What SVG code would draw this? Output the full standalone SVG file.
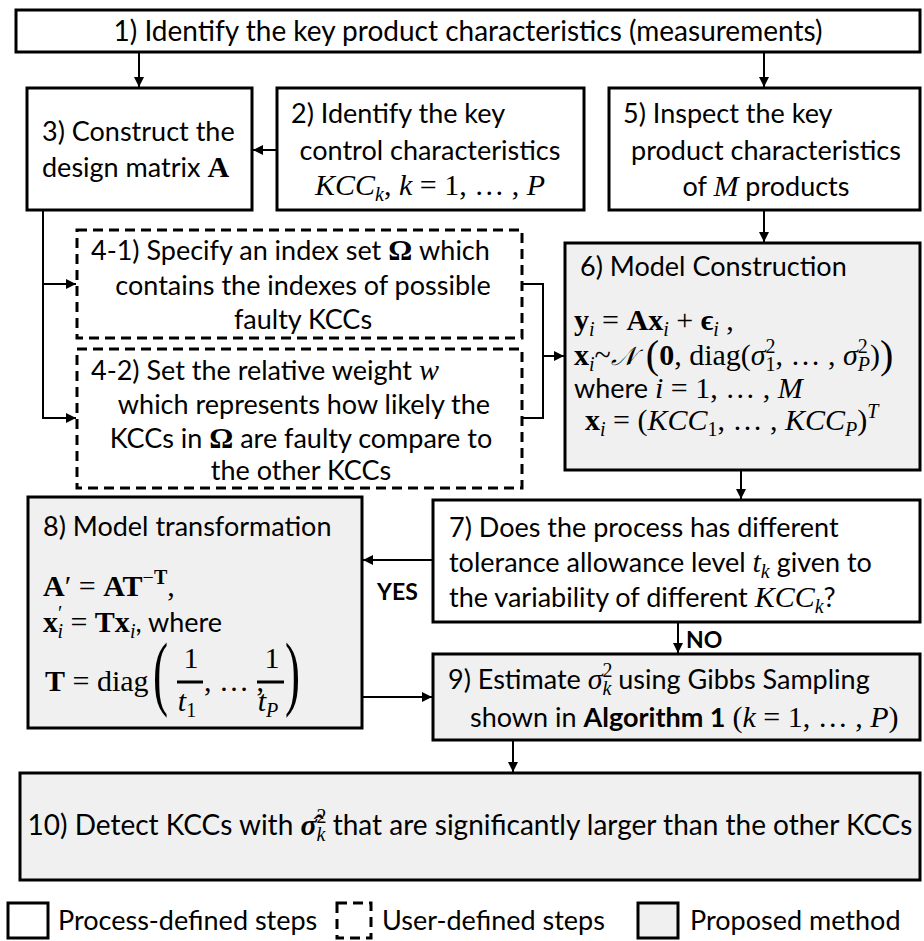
<svg xmlns="http://www.w3.org/2000/svg" width="924" height="941" viewBox="0 0 924 941">
<style>
.b{fill:#fff;stroke:#000;stroke-width:3}
.g{fill:#f0f0f0;stroke:#000;stroke-width:3}
.d{fill:#fff;stroke:#000;stroke-width:3;stroke-dasharray:10 6}
.t{font-family:Lato,"Open Sans",sans-serif;font-size:27px;fill:#000}
.m{font-family:"Liberation Serif",serif;font-size:30px}
.s{font-size:20px}
.i{font-style:italic}
.bf{font-weight:bold}
.c{stroke:#000;stroke-width:2;fill:none}
</style>
<defs>
<marker id="a" markerWidth="10" markerHeight="10" refX="10" refY="5" orient="auto" markerUnits="userSpaceOnUse"><path d="M0,0 L10,5 L0,10 z" fill="#000"/></marker>
</defs>

<g id="connectors">
<path class="c" d="M139,52 V87" marker-end="url(#a)"/>
<path class="c" d="M764,52 V87" marker-end="url(#a)"/>
<path class="c" d="M277,150 H253" marker-end="url(#a)"/>
<path class="c" d="M764,210 V242" marker-end="url(#a)"/>
<path class="c" d="M43,210 V418 H76" marker-end="url(#a)"/>
<path class="c" d="M43,284 H76" marker-end="url(#a)"/>
<path class="c" d="M522,284 H543 V418 H522"/>
<path class="c" d="M543,356 H564" marker-end="url(#a)"/>
<path class="c" d="M741,470 V499" marker-end="url(#a)"/>
<path class="c" d="M433,560 H363" marker-end="url(#a)"/>
<path class="c" d="M678,622 V653" marker-end="url(#a)"/>
<path class="c" d="M362,697 H432" marker-end="url(#a)"/>
<path class="c" d="M513,740 V772" marker-end="url(#a)"/>
<text class="t bf" x="377" y="600" style="font-size:23px">YES</text>
<text class="t bf" x="686" y="648" style="font-size:23px">NO</text>
</g>

<g id="n1">
<rect class="b" x="16" y="10" width="904" height="42"/>
<text class="t" x="468" y="41" text-anchor="middle" style="font-size:28px">1) Identify the key product characteristics (measurements)</text>
</g>

<g id="n3">
<rect class="b" x="27" y="88" width="225" height="122"/>
<text class="t" x="42" y="141">3) Construct the</text>
<text class="t" x="42" y="177">design matrix <tspan class="m bf">A</tspan></text>
</g>

<g id="n2">
<rect class="b" x="277" y="88" width="307" height="122"/>
<text class="t" x="291" y="123">2) Identify the key</text>
<text class="t" x="430" y="160" text-anchor="middle">control characteristics</text>
<text class="m" x="430" y="195" text-anchor="middle"><tspan class="i">KCC</tspan><tspan class="i s" dy="6">k</tspan><tspan dy="-6">, </tspan><tspan class="i">k</tspan> = 1, … , <tspan class="i">P</tspan></text>
</g>

<g id="n5">
<rect class="b" x="609" y="88" width="311" height="122"/>
<text class="t" x="623" y="123">5) Inspect the key</text>
<text class="t" x="766" y="160" text-anchor="middle">product characteristics</text>
<text class="t" x="766" y="196" text-anchor="middle">of <tspan class="m i">M</tspan> products</text>
</g>

<g id="n4-1">
<rect class="d" x="77" y="230" width="445" height="108"/>
<text class="t" x="91" y="260">4-1) Specify an index set <tspan class="m bf">Ω</tspan> which</text>
<text class="t" x="303" y="295" text-anchor="middle">contains the indexes of possible</text>
<text class="t" x="303" y="329" text-anchor="middle">faulty KCCs</text>
</g>

<g id="n4-2">
<rect class="d" x="77" y="349" width="445" height="139"/>
<text class="t" x="91" y="380">4-2) Set the relative weight <tspan class="m i">w</tspan></text>
<text class="t" x="304" y="414" text-anchor="middle">which represents how likely the</text>
<text class="t" x="301" y="448" text-anchor="middle">KCCs in <tspan class="m bf">Ω</tspan> are faulty compare to</text>
<text class="t" x="301" y="480" text-anchor="middle">the other KCCs</text>
</g>

<g id="n6">
<rect class="g" x="565" y="243" width="355" height="227"/>
<text class="t" x="580" y="276">6) Model Construction</text>
<text class="m" x="574" y="330"><tspan class="bf">y</tspan><tspan class="i s" dy="6">i</tspan><tspan dy="-6"> = </tspan><tspan class="bf">Ax</tspan><tspan class="i s" dy="6">i</tspan><tspan dy="-6"> + </tspan><tspan class="bf">ϵ</tspan><tspan class="i s" dy="6">i</tspan><tspan dy="-6"> ,</tspan></text>
<text class="m" x="574" y="365"><tspan class="bf">x</tspan><tspan class="i s" dy="6">i</tspan><tspan dy="-6">~</tspan><tspan class="i" font-family="DejaVu Serif" font-size="26">𝒩</tspan><tspan font-size="40" dy="3"> (</tspan><tspan dy="-3" class="bf">0</tspan>, diag(<tspan class="i">σ</tspan><tspan class="s" dy="-12">2</tspan><tspan class="s" dx="-10" dy="18">1</tspan><tspan dy="-6">, … , </tspan><tspan class="i">σ</tspan><tspan class="s" dy="-12">2</tspan><tspan class="s i" dx="-10" dy="18">P</tspan><tspan dy="-6">)</tspan><tspan font-size="40" dy="3">)</tspan></text>
<text class="t" x="574" y="398">where <tspan class="m i">i</tspan><tspan class="m"> = 1, … , </tspan><tspan class="m i">M</tspan></text>
<text class="m" x="585" y="430"><tspan class="bf">x</tspan><tspan class="i s" dy="6">i</tspan><tspan dy="-6"> = (</tspan><tspan class="i">KCC</tspan><tspan class="s" dy="6">1</tspan><tspan dy="-6">, … , </tspan><tspan class="i">KCC</tspan><tspan class="i s" dy="6">P</tspan><tspan dy="-6">)</tspan><tspan class="i s" dy="-12">T</tspan></text>
</g>

<g id="n8">
<rect class="g" x="28" y="497" width="334" height="231"/>
<text class="t" x="43" y="536">8) Model transformation</text>
<text class="m" x="43" y="596"><tspan class="bf">A</tspan>′ = <tspan class="bf">AT</tspan><tspan class="s" dy="-12">−</tspan><tspan class="s bf">T</tspan><tspan dy="12">,</tspan></text>
<text class="m" x="43" y="632"><tspan class="bf">x</tspan><tspan class="s" dy="-12">′</tspan><tspan class="i s" dx="-5" dy="18">i</tspan><tspan dy="-6"> = </tspan><tspan class="bf">Tx</tspan><tspan class="i s" dy="6">i</tspan><tspan dy="-6" class="t">, where</tspan></text>
<text class="m" x="45" y="691"><tspan class="bf">T</tspan> = diag</text>
<text class="m" x="153" y="700" style="font-size:82px" transform="translate(153 0) scale(0.55 1) translate(-153 0)">(</text>
<text class="m" x="191" y="668" text-anchor="middle">1</text>
<line x1="177" y1="682" x2="203" y2="682" stroke="#000" stroke-width="3"/>
<text class="m i" x="187" y="711" text-anchor="middle">t<tspan class="s" font-style="normal" dy="6">1</tspan></text>
<text class="m" x="204" y="691">, … ,</text>
<text class="m" x="272" y="668" text-anchor="middle">1</text>
<line x1="257" y1="682" x2="284" y2="682" stroke="#000" stroke-width="3"/>
<text class="m i" x="268" y="711" text-anchor="middle">t<tspan class="s" dy="6">P</tspan></text>
<text class="m" x="285" y="700" style="font-size:82px" transform="translate(285 0) scale(0.55 1) translate(-285 0)">)</text>
</g>

<g id="n7">
<rect class="b" x="433" y="500" width="487" height="122"/>
<text class="t" x="449" y="537">7) Does the process has different</text>
<text class="t" x="449" y="572">tolerance allowance level <tspan class="m i">t</tspan><tspan class="m i s" dy="6">k</tspan><tspan dy="-6"> given to</tspan></text>
<text class="t" x="449" y="607">the variability of different <tspan class="m i">KCC</tspan><tspan class="m i s" dy="6">k</tspan><tspan dy="-6">?</tspan></text>
</g>

<g id="n9">
<rect class="g" x="433" y="654" width="487" height="86"/>
<text class="t" x="448" y="689">9) Estimate <tspan class="m i">σ</tspan><tspan class="m s" dy="-12">2</tspan><tspan class="m i s" dx="-10" dy="18">k</tspan><tspan dy="-6"> using Gibbs Sampling</tspan></text>
<text class="t" x="470" y="727">shown in <tspan class="bf">Algorithm 1</tspan> <tspan class="m">(</tspan><tspan class="m i">k</tspan><tspan class="m"> = 1, … , </tspan><tspan class="m i">P</tspan><tspan class="m">)</tspan></text>
</g>

<g id="n10">
<rect class="g" x="20" y="773" width="900" height="107"/>
<text class="t" x="470" y="835" text-anchor="middle" style="font-size:28px">10) Detect KCCs with <tspan class="m i bf">σ̂</tspan><tspan class="m s" dy="-12">2</tspan><tspan class="m i s" dx="-10" dy="18">k</tspan><tspan dy="-6"> that are significantly larger than the other KCCs</tspan></text>
</g>

<g id="legend">
<rect class="b" x="8" y="903" width="40" height="35"/>
<text class="t" x="58" y="930">Process-defined steps</text>
<rect class="d" x="337" y="903" width="34" height="35" stroke-dasharray="8 6"/>
<text class="t" x="382" y="930">User-defined steps</text>
<rect class="g" x="638" y="903" width="40" height="35"/>
<text class="t" x="690" y="930">Proposed method</text>
</g>
</svg>
